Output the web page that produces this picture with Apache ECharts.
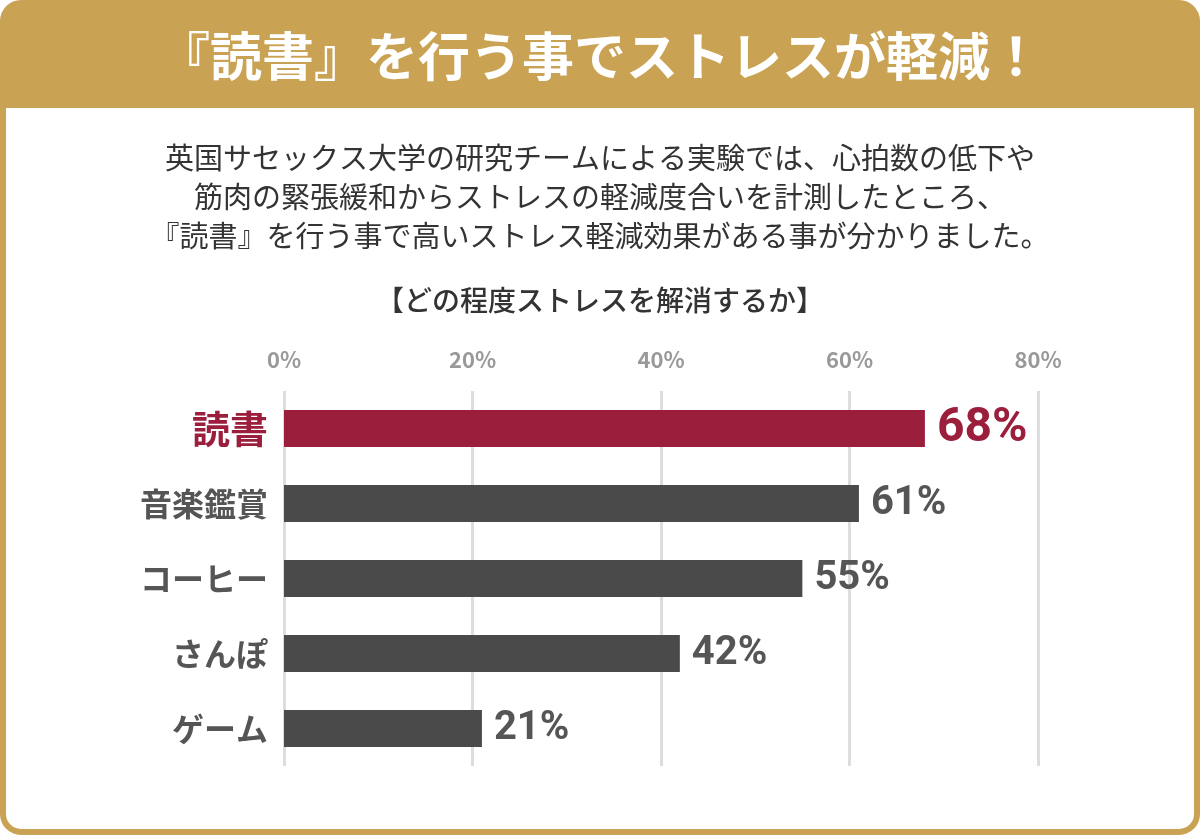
<!DOCTYPE html><html><head><meta charset="utf-8">
<script src="https://cdn.jsdelivr.net/npm/echarts@6/dist/echarts.min.js"></script>
<style>html,body{margin:0;background:#fff}#c{width:1200px;height:835px}</style></head><body><div id="c"></div>
<script>
const categories=['読書','音楽鑑賞','コーヒー','さんぽ','ゲーム'];
const values=[68,61,55,42,21];
const ticks=['0%','20%','40%','60%','80%'];
const title='『読書』を行う事でストレスが軽減！';
const lines=['英国サセックス大学の研究チームによる実験では、心拍数の低下や','筋肉の緊張緩和からストレスの軽減度合いを計測したところ、','『読書』を行う事で高いストレス軽減効果がある事が分かりました。'];
const sub='【どの程度ストレスを解消するか】';
const RED='#9B1E3C',GRAY='#4a4a4a',GOLD='#C9A253';
const F='"Noto Sans CJK JP","Noto Sans",sans-serif';
const ch=echarts.init(document.getElementById('c'));
const g=[
 {type:'rect',shape:{x:3,y:3,width:1194,height:829,r:18},style:{fill:'#fff',stroke:GOLD,lineWidth:6},z:-1},
 {type:'rect',shape:{x:3,y:3,width:1194,height:105,r:[18,18,0,0]},style:{fill:GOLD},z:0},
 {type:'text',x:600,y:56,style:{text:title,fill:'#fff',font:'bold 52px '+F,align:'center',verticalAlign:'middle'}},
 {type:'text',x:600,y:300,style:{text:sub,fill:'#333',font:'500 28px '+F,align:'center',verticalAlign:'middle'}}
];
lines.forEach((t,i)=>g.push({type:'text',x:600,y:158+i*39,style:{text:t,fill:'#333',font:'29px '+F,align:'center',verticalAlign:'middle'}}));
ch.setOption({animation:false,graphic:g,
 grid:{left:284,right:162,top:391,height:375},
 xAxis:{type:'value',min:0,max:80,interval:20,position:'top',axisLine:{show:false},axisTick:{show:false},
  axisLabel:{color:'#999',fontWeight:'bold',fontSize:22,fontFamily:F,margin:20,formatter:v=>ticks[v/20]},
  splitLine:{lineStyle:{color:'#ddd',width:3}}},
 yAxis:{type:'category',inverse:true,data:categories,axisLine:{show:false},axisTick:{show:false},
  axisLabel:{margin:16,fontFamily:F,formatter:(v,i)=>i===0?'{a|'+v+'}':'{b|'+v+'}',
   rich:{a:{color:RED,fontSize:38,fontWeight:'bold',fontFamily:F},b:{color:'#555',fontSize:32,fontWeight:'bold',fontFamily:F}}}},
 series:[{type:'bar',barWidth:37,data:values.map((v,i)=>({value:v,itemStyle:{color:i===0?RED:GRAY},
  label:{show:true,position:'right',distance:12,formatter:'{c}%',fontFamily:'Roboto,sans-serif',fontWeight:'bold',
   color:i===0?RED:'#555',fontSize:i===0?48:40}}))}]
});
</script></body></html>
